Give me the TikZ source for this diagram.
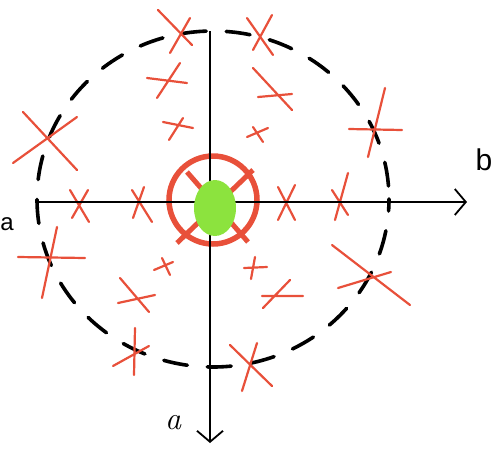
\documentclass[tikz,border=0pt]{standalone}
\usepackage{fontspec}
\setsansfont{Liberation Sans}
\usetikzlibrary{arrows.meta}
\definecolor{crossred}{HTML}{E8503A}
\definecolor{blobgreen}{HTML}{8CE33E}

\begin{document}
\begin{tikzpicture}[x=1pt, y=-1pt,
    xstroke/.style={crossred, line width=2.2pt, line cap=round},
    axis/.style={black, line width=1.6pt, -{Straight Barb[length=11pt, width=26pt, line width=1.8pt]}}]
    \useasboundingbox (0,0) rectangle (493,448);

    % Define coordinates
    \coordinate (O) at (210,202);
    \coordinate (C) at (213,199);
    \coordinate (L) at (37,202);
    \coordinate (R) at (467,202);
    \coordinate (T) at (210,31);
    \coordinate (D) at (210,443);

    % Draw the dashed ring
    \draw[line width=3.6pt, line cap=round, dash pattern=on 24pt off 20pt, dash phase=12pt]
        (C) ellipse [x radius=176, y radius=168];

    % Draw the red crosses
    \draw[xstroke] (158,10) -- (192,45) (190,18) -- (170,53);
    \draw[xstroke] (147,78) -- (187,83) (180,63) -- (157,98);
    \draw[xstroke] (163,122) -- (193,128) (183,118) -- (169,140);
    \draw[xstroke] (23,112) -- (77,170) (77,117) -- (13,163);
    \draw[xstroke] (70,190) -- (89,222) (88,190) -- (72,218);
    \draw[xstroke] (132,190) -- (152,222) (144,187) -- (133,218);
    \draw[xstroke] (247,18) -- (273,55) (272,15) -- (253,50);
    \draw[xstroke] (253,68) -- (292,110) (258,97) -- (292,94);
    \draw[xstroke] (247,137) -- (268,128) (253,127) -- (263,142);
    \draw[xstroke] (349,129) -- (402,130) (385,88) -- (368,157);
    \draw[xstroke] (278,187) -- (295,220) (295,185) -- (278,220);
    \draw[xstroke] (348,173) -- (335,220) (332,190) -- (348,215);
    \draw[xstroke] (18,257) -- (85,258) (57,227) -- (42,298);
    \draw[xstroke] (154,270) -- (173,262) (162,258) -- (170,275);
    \draw[xstroke] (120,278) -- (149,312) (118,303) -- (155,295);
    \draw[xstroke] (135,328) -- (134,375) (113,366) -- (149,346);
    \draw[xstroke] (257,343) -- (242,391) (230,345) -- (272,386);
    \draw[xstroke] (332,245) -- (410,305) (338,288) -- (391,272);
    \draw[xstroke] (244,268) -- (267,267) (255,257) -- (251,279);
    \draw[xstroke] (262,296) -- (303,296) (290,280) -- (263,308);

    % Draw the target in the middle
    \draw[crossred, line width=5.5pt] (213,200) circle [radius=44];
    \draw[crossred, line width=5pt] (187,172) -- (248,242) (253,170) -- (177,243);

    % Draw the axes
    \draw[axis] (L) -- (R);
    \draw[axis] (T) -- (D);

    % Draw the green blob
    \fill[blobgreen] (215,208) ellipse [x radius=21, y radius=28];

    % Label the axes
    \node[font=\sffamily\fontsize{24}{24}\selectfont, inner sep=1pt] (la) at (7,224) {a};
    \node[font=\sffamily\fontsize{30}{30}\selectfont, inner sep=1pt] (lb) at (484,160) {b};
    \node[font=\itshape\fontsize{32}{32}\selectfont, inner sep=1pt] (lc) at (173,423) {a};
\end{tikzpicture}
\end{document}
